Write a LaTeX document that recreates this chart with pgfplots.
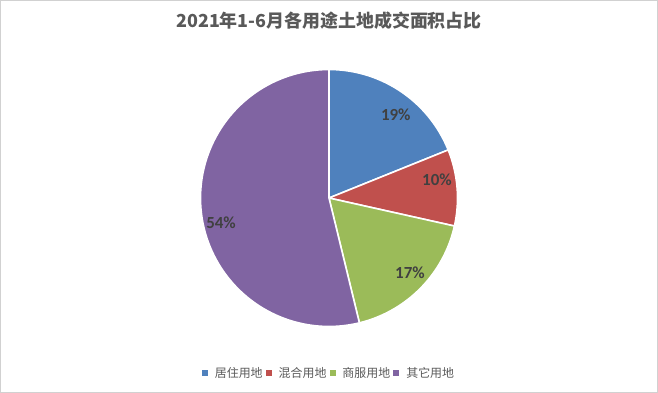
\documentclass[border=0pt]{standalone}
\usepackage{pgfplots}
\pgfplotsset{compat=1.18}
\usepackage{fontspec}
\setmainfont{Noto Sans CJK SC}
\newfontfamily\labfont{Carlito}
\definecolor{cA}{HTML}{4F81BD}
\definecolor{cB}{HTML}{C0504D}
\definecolor{cC}{HTML}{9BBB59}
\definecolor{cD}{HTML}{8064A2}
\definecolor{txt}{HTML}{595959}
\definecolor{lab}{HTML}{404040}
\begin{document}
\begin{tikzpicture}
\useasboundingbox (0,0) rectangle (658bp,393bp);
\draw[color=black!18, line width=1bp] (0.5bp,0.5bp) rectangle (657.5bp,392.5bp);
\node[text=txt, font=\fontsize{18}{21}\selectfont\bfseries] at (329bp,372bp) {2021年1-6月各用途土地成交面积占比};
\begin{axis}[
  at={(329bp,195bp)}, anchor=center,
  width=257bp, height=257bp, scale only axis,
  xmin=-1, xmax=1, ymin=-1, ymax=1,
  hide axis, clip=false,
  legend columns=-1,
  legend style={at={(0.5,-0.181)}, anchor=center, draw=none, fill=none,
    font=\fontsize{12}{14}\selectfont, text=txt,
    /tikz/every even column/.append style={column sep=1bp},
    /tikz/every odd column/.append style={column sep=5bp}},
  legend image code/.code={\fill[#1, draw=none] (0bp,-3bp) rectangle (6bp,3bp);},
]
% percentages (cumulative: 0, 18.9, 28.5, 46.2, 100), angle = 90 - 3.6*p
\addplot[fill=cA, draw=white, line width=1.6bp, domain={90-3.6*18.9}:{90-3.6*0}, samples=80]
  ({cos(x)},{sin(x)}) -- (0,0) -- cycle;
\addlegendentry{居住用地}
\addplot[fill=cB, draw=white, line width=1.6bp, domain={90-3.6*28.5}:{90-3.6*18.9}, samples=60]
  ({cos(x)},{sin(x)}) -- (0,0) -- cycle;
\addlegendentry{混合用地}
\addplot[fill=cC, draw=white, line width=1.6bp, domain={90-3.6*46.2}:{90-3.6*28.5}, samples=80]
  ({cos(x)},{sin(x)}) -- (0,0) -- cycle;
\addlegendentry{商服用地}
\addplot[fill=cD, draw=white, line width=1.6bp, domain={90-3.6*100}:{90-3.6*46.2}, samples=150]
  ({cos(x)},{sin(x)}) -- (0,0) -- cycle;
\addlegendentry{其它用地}
\node[text=lab, font=\fontsize{17}{19}\labfont\bfseries] at (axis cs:0.52,0.65) {19\%};
\node[text=lab, font=\fontsize{17}{19}\labfont\bfseries] at (axis cs:0.84,0.14) {10\%};
\node[text=lab, font=\fontsize{17}{19}\labfont\bfseries] at (axis cs:0.63,-0.58) {17\%};
\node[text=lab, font=\fontsize{17}{19}\labfont\bfseries] at (axis cs:-0.84,-0.19) {54\%};
\end{axis}
\end{tikzpicture}
\end{document}
